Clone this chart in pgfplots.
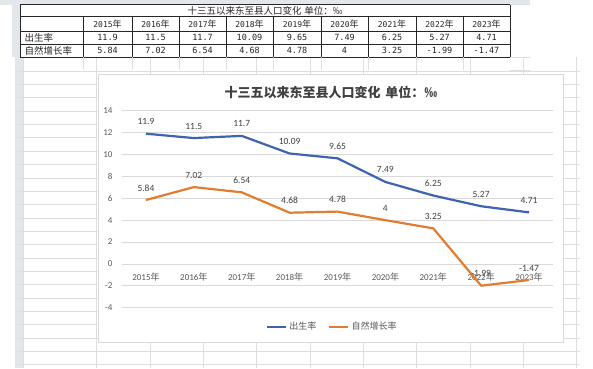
\documentclass[border=0pt]{standalone}
\usepackage{pgfplots}
\pgfplotsset{compat=1.18}
\usepackage{fontspec}
\setmainfont{Carlito}
\setmonofont{DejaVu Sans Mono}
\newfontfamily\cjk{Noto Sans CJK SC}
\definecolor{blueL}{HTML}{3F64AE}
\definecolor{orangeL}{HTML}{E27D30}
\definecolor{gridc}{HTML}{D9D9D9}
\definecolor{sheet}{HTML}{DCDEE0}
\definecolor{strip}{HTML}{E3E6EA}
\definecolor{txt}{HTML}{595959}
\definecolor{lab}{HTML}{404040}
\begin{document}
\begin{tikzpicture}[x=1pt,y=1pt]
\path[use as bounding box] (0,0) rectangle (593,368);
\fill[white] (0,0) rectangle (593,368);
% ---- spreadsheet background (lower part)
\fill[strip] (15,0) rectangle (23,311);
\foreach \k in {0,...,22} {
  \pgfmathsetmacro\yy{368-(71+13.35*\k)}
  \draw[sheet,line width=0.6pt] (15,\yy) -- (580,\yy);
}
\foreach \k in {0,...,9} {
  \pgfmathsetmacro\xx{96.7+53.33*\k}
  \draw[sheet,line width=0.6pt] (\xx,0) -- (\xx,311);
}
\draw[sheet] (23,0) -- (23,311);
% ---- top table
\fill[strip] (0,363.5) rectangle (530,368);
\fill[strip] (12,311) rectangle (20,363.5);
\foreach \yy in {311,297.7} {\draw[sheet] (510,\yy) -- (530,\yy);}
\draw[sheet] (510,363.5) -- (530,363.5);
\begin{scope}[line width=0.5pt, black!85]
\foreach \yy in {363.5,351.3,337,324,310.7} {\draw (20,\yy) -- (510,\yy);}
\draw (20,363.5) -- (20,310.7);
\draw (510,363.5) -- (510,310.7);
\foreach \xx in {83,132,179,226,273,321,368,416,463} {\draw (\xx,351.3) -- (\xx,310.7);}
\end{scope}
\foreach \xx in {83,132,179,226,273,321,368,416,463} {\draw[sheet] (\xx,310.7) -- (\xx,298);}
\node[text=black!85] at (265,357.4) {\cjk\fontsize{9.5}{10}\selectfont 十三五以来东至县人口变化\hspace{3pt}单位：‰};
\node[anchor=west,text=black!85] at (21,330.5) {\cjk\fontsize{9.5}{10}\selectfont 出生率};
\node[anchor=west,text=black!85] at (21,317.3) {\cjk\fontsize{9.5}{10}\selectfont 自然增长率};
\foreach \xc/\yr/\bb/\nn in {107.5/2015/11.9/5.84, 155.5/2016/11.5/7.02, 202.5/2017/11.7/6.54, 249.5/2018/10.09/4.68, 297/2019/9.65/4.78, 344.5/2020/7.49/4, 392/2021/6.25/3.25, 439.5/2022/5.27/-1.99, 486.5/2023/4.71/-1.47} {
  \node[text=black!85] at (\xc,344.1) {{\ttfamily\fontsize{8}{10}\selectfont\yr}{\cjk\fontsize{9}{10}\selectfont 年}};
  \node[text=black!85] at (\xc,330.5) {\ttfamily\fontsize{8.5}{10}\selectfont\bb};
  \node[text=black!85] at (\xc,317.3) {\ttfamily\fontsize{8.5}{10}\selectfont\nn};
}
% ---- chart area
\fill[white] (98,26) rectangle (563,294);
\draw[gridc,line width=0.6pt] (98,26) rectangle (563,294);
\node[text=lab] at (331,276) {\cjk\bfseries\fontsize{13}{15}\selectfont 十三五以来东至县人口变化\hspace{5pt}单位：‰};
\begin{axis}[
  at={(122pt,60.3pt)}, anchor=south west,
  scale only axis, width=431pt, height=197pt,
  xmin=-0.5, xmax=8.5, ymin=-4, ymax=14,
  ytick={-4,-2,...,14},
  xtick={0,...,8},
  xticklabels={2015{\cjk 年},2016{\cjk 年},2017{\cjk 年},2018{\cjk 年},2019{\cjk 年},2020{\cjk 年},2021{\cjk 年},2022{\cjk 年},2023{\cjk 年}},
  axis line style={draw=none},
  major tick length=0pt,
  ymajorgrids,
  grid style={gridc, line width=0.75pt},
  tick label style={font=\fontsize{9}{10}\selectfont, text=txt},
  /pgf/number format/assume math mode=true,
  xticklabel style={anchor=center, yshift=30.4pt},
  yticklabel style={xshift=-6pt},
  clip=false,
  point meta=explicit symbolic,
  nodes near coords,
  every node near coord/.append style={font=\fontsize{9.5}{10}\selectfont, text=lab, anchor=center, yshift=12pt},
  legend style={at={(0.488,-0.0964)}, anchor=center, draw=none, fill=none,
    legend columns=2, font=\cjk\fontsize{9}{10}\selectfont, text=txt,
    /tikz/every even column/.append style={column sep=10pt}},
  legend image code/.code={\draw[#1] (0pt,0pt) -- (19pt,0pt);},
]
\addplot[blueL, line width=2.2pt, line join=round, no markers] coordinates {
  (0,11.9)[11.9] (1,11.5)[11.5] (2,11.7)[11.7] (3,10.09)[10.09] (4,9.65)[9.65]
  (5,7.49)[7.49] (6,6.25)[6.25] (7,5.27)[5.27] (8,4.71)[4.71]
};
\addlegendentry{出生率}
\addplot[orangeL, line width=2.2pt, line join=round, no markers] coordinates {
  (0,5.84)[5.84] (1,7.02)[7.02] (2,6.54)[6.54] (3,4.68)[4.68] (4,4.78)[4.78]
  (5,4)[4] (6,3.25)[3.25] (7,-1.99)[-1.99] (8,-1.47)[-1.47]
};
\addlegendentry{自然增长率}
\end{axis}
\end{tikzpicture}
\end{document}
